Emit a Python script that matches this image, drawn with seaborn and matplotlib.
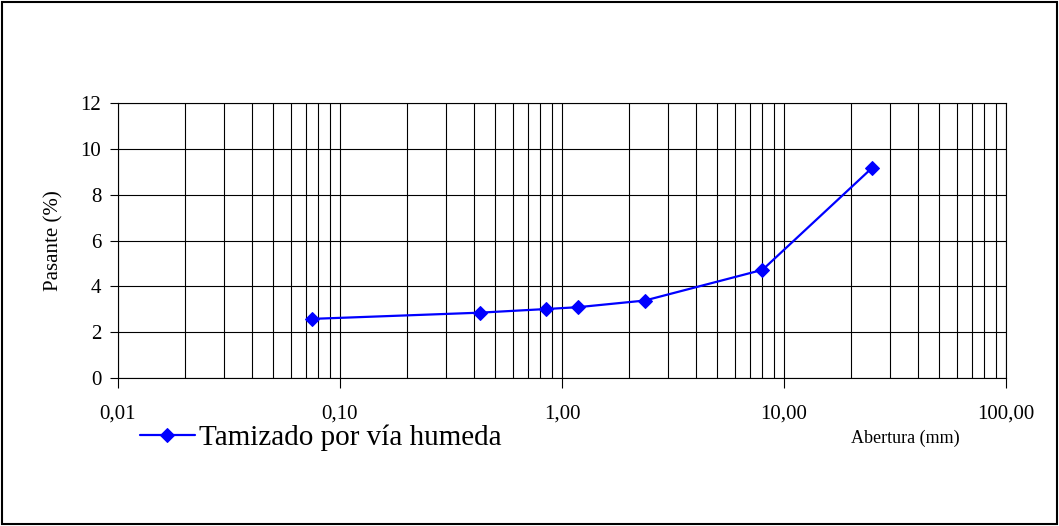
import pandas as pd
import matplotlib
matplotlib.use("Agg")
import matplotlib.pyplot as plt
import seaborn as sns
from matplotlib.ticker import FuncFormatter, LogLocator, NullFormatter

# sieve openings (mm) and percent passing
abertura = [0.075, 0.425, 0.85, 1.18, 2.36, 8.0, 25.0]
pasante = [2.58, 2.85, 3.01, 3.09, 3.38, 4.72, 9.18]
serie = "Tamizado por vía humeda"

df = pd.DataFrame({"Abertura": abertura, "Pasante": pasante})

sns.set_style("white")
plt.rcParams["font.family"] = ["Liberation Serif", "DejaVu Serif"]
plt.rcParams["text.color"] = "black"
plt.rcParams["xtick.color"] = "black"
plt.rcParams["ytick.color"] = "black"
plt.rcParams["axes.labelcolor"] = "black"

fig = plt.figure(figsize=(10.59, 5.26), dpi=100)
ax = fig.add_axes([118 / 1059, 1 - 378 / 526, (1006 - 118) / 1059, (378 - 103) / 526])

sns.lineplot(data=df, x="Abertura", y="Pasante", ax=ax, color="blue",
             marker="D", markersize=7, markeredgecolor="blue",
             linewidth=1.6, label=serie, legend=False)

ax.set_xscale("log")
ax.set_xlim(0.01, 100)
ax.set_ylim(0, 12)
ax.set_yticks(range(0, 13, 2))
ax.xaxis.set_major_locator(LogLocator(base=10, numticks=10))
ax.xaxis.set_minor_locator(LogLocator(base=10, subs=range(2, 10), numticks=20))
ax.xaxis.set_minor_formatter(NullFormatter())
ax.xaxis.set_major_formatter(FuncFormatter(lambda v, p: f"{v:.2f}".replace(".", ",")))

ax.grid(True, which="major", axis="both", color="black", linewidth=0.8)
ax.grid(True, which="minor", axis="x", color="black", linewidth=0.8)
ax.tick_params(axis="x", which="major", direction="out", length=7, width=0.8,
               labelsize=15, pad=12, bottom=True)
ax.tick_params(axis="x", which="minor", length=0)
ax.tick_params(axis="y", direction="out", length=6, width=0.8,
               labelsize=15, pad=6, left=True)
for s in ax.spines.values():
    s.set_color("black")
    s.set_linewidth(0.8)

ax.set_xlabel("")
ax.set_ylabel("Pasante (%)", fontsize=15, labelpad=12)

fig.text(905 / 1059, 1 - 438 / 526, "Abertura (mm)", fontsize=13,
         ha="center", va="center")

handles, labels = ax.get_legend_handles_labels()
fig.legend(handles, labels, loc="center left",
           bbox_to_anchor=(128 / 1059, 1 - 438 / 526), frameon=False,
           fontsize=21, handlelength=1.9, handletextpad=0.15, borderaxespad=0)

# outer frame around the whole chart
fig.patches.append(plt.Rectangle((0.002, 0.003), 0.996, 0.994, transform=fig.transFigure,
                                 fill=False, edgecolor="black", linewidth=1.5))

fig.savefig("out.png", dpi=100)
